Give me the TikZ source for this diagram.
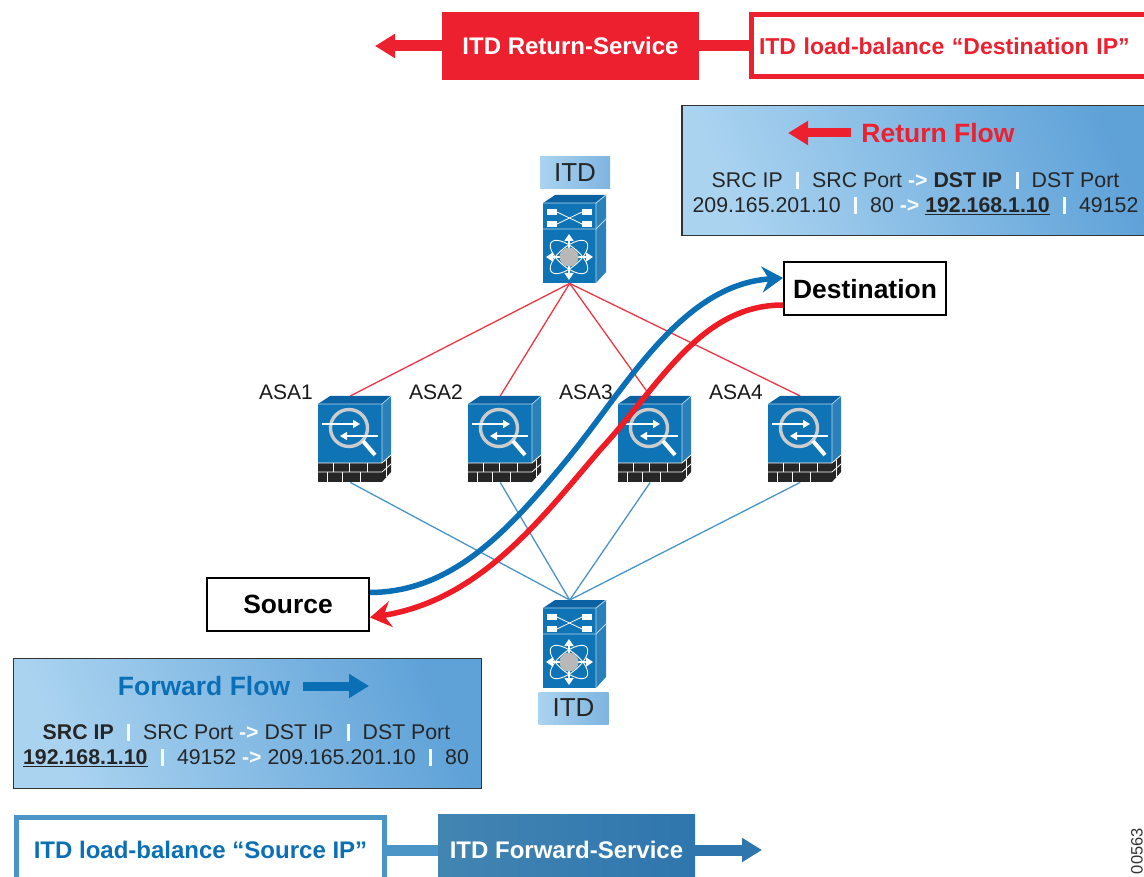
\documentclass[tikz,border=0pt]{standalone}
\usepackage{fontspec}
\setmainfont{Liberation Sans}
\usetikzlibrary{arrows.meta}

\definecolor{itdred}{HTML}{ED2030}
\definecolor{curvered}{HTML}{EE1C25}
\definecolor{itdblue}{HTML}{0A6FB5}
\definecolor{iconblue}{HTML}{0E74B6}
\definecolor{icontop}{HTML}{0B62A2}
\definecolor{iconside}{HTML}{2A80BA}
\definecolor{panellight}{HTML}{AAD3F0}
\definecolor{paneldark}{HTML}{5FA2D8}
\definecolor{fwdline}{HTML}{4A94C6}
\definecolor{fwdbar}{HTML}{2F76AE}

\newcommand{\fsize}[1]{\fontsize{#1}{#1}\selectfont}
\newcommand{\barsep}{\hspace{13.5pt}\textcolor{white!90!panellight}{\rule[-1.5pt]{3pt}{17pt}}\hspace{13pt}}
\newcommand{\flowto}{\textcolor{white!90!panellight}{\textbf{->}}}

\tikzset{
    flowpanel/.style={draw=black!80, line width=1.6pt, minimum height=130pt, shading=axis,
        left color=panellight, right color=paneldark, shading angle=112},
    flowtitle/.style={font=\fsize{26.5}\bfseries},
    flowrow/.style={font=\fsize{21.3}, inner sep=0pt, text=black!85},
    flowarrow/.style={line width=9pt, -{Triangle[length=20pt,width=23pt]}},
    lbbox/.style={draw, fill=white, line width=5pt, inner ysep=0pt, minimum height=62pt, font=\fsize{24}\bfseries},
    svcbox/.style={minimum height=68pt, minimum width=257pt, text=white, font=\fsize{24}\bfseries},
    hostbox/.style={draw=black, fill=white, line width=2pt, minimum width=162pt, minimum height=53pt, font=\fsize{26.4}\bfseries},
    itdtag/.style={minimum width=70pt, minimum height=32pt, shading=axis, left color=panellight,
        right color=paneldark!80, font=\fsize{26}, text=black!85},
    asatag/.style={font=\fsize{21}, inner sep=0pt, text=black!90},
    switchbox/.style={minimum width=53pt, minimum height=88pt, inner sep=0pt},
    asabox/.style={minimum width=64pt, minimum height=86pt, inner sep=0pt},
    toline/.style={itdred!90, line width=1.3pt},
    fromline/.style={fwdline, line width=1.3pt},
    flowcurve/.style={line width=5.5pt, -{Stealth[length=21pt,width=26pt,inset=7pt]}},
    itdswitch/.pic={
        \fill[iconblue] (0,8) rectangle (53,88);
        \fill[icontop] (0,8) -- (12,0) -- (63,0) -- (53,8) -- cycle;
        \fill[iconside] (53,8) -- (63,0) -- (63,77) -- (53,88) -- cycle;
        \draw[white!70!iconblue, line width=.8pt] (0,34) -- (53,34) -- (63,24);
        \draw[white!70!iconblue, line width=.8pt] (0,8) -- (53,8) -- (53,88) (53,8) -- (63,0);
        \fill[white] (4,14) rectangle (14,20);
        \fill[white] (39,14) rectangle (49,20);
        \fill[white] (4,26) rectangle (14,32);
        \fill[white] (39,26) rectangle (49,32);
        \draw[white, line width=.8pt] (14,17) -- (39,29);
        \draw[white, line width=.8pt] (14,29) -- (39,17);
        \draw[white, line width=.9pt, rotate around={40:(26,62)}] (26,62) ellipse [x radius=23pt, y radius=10pt];
        \draw[white, line width=.9pt, rotate around={-40:(26,62)}] (26,62) ellipse [x radius=23pt, y radius=10pt];
        \draw[white, line width=1.8pt, -{Triangle[length=7pt,width=9pt]}] (26,62) -- (26,39);
        \draw[white, line width=1.8pt, -{Triangle[length=7pt,width=9pt]}] (26,62) -- (26,85);
        \draw[white, line width=1.8pt, -{Triangle[length=7pt,width=9pt]}] (26,62) -- (3,62);
        \draw[white, line width=1.8pt, -{Triangle[length=7pt,width=9pt]}] (26,62) -- (50,62);
        \fill[black!28] (26,62) circle (9.5pt);
    },
    asafirewall/.pic={
        \fill[iconblue] (0,8) rectangle (64,67);
        \fill[icontop] (0,8) -- (12,0) -- (73,0) -- (64,8) -- cycle;
        \fill[iconside] (64,8) -- (73,0) -- (73,59) -- (64,67) -- cycle;
        \draw[white!70!iconblue, line width=.7pt] (0,8) -- (64,8) -- (73,0) (64,8) -- (64,67);
        \fill[black!85] (0,67) rectangle (64,86);
        \fill[black!85] (64,67) -- (73,59) -- (73,76) -- (64,86) -- cycle;
        \draw[white, line width=.8pt] (0,76) -- (64,76) -- (73,68);
        \draw[white, line width=.8pt] (0,67) -- (64,67) -- (73,59);
        \draw[white, line width=.8pt] (15,67) -- (15,76) (31,67) -- (31,76) (49,67) -- (49,76);
        \draw[white, line width=.8pt] (9,76) -- (9,86) (24,76) -- (24,86) (42,76) -- (42,86) (68,64) -- (68,81);
        \draw[white!80!black, line width=3.4pt] (31,32) circle (18.5pt);
        \draw[white, line width=4pt] (45,45) -- (57,59);
        \draw[white, line width=1.5pt, -{Triangle[length=7pt,width=8pt]}] (4,28) -- (42,28);
        \draw[white, line width=1.5pt, -{Triangle[length=7pt,width=8pt]}] (60,40) -- (22,40);
    },
}

\begin{document}
\begin{tikzpicture}[x=1pt, y=-1pt]
    \clip (0,0) rectangle (1144,877);
    \fill[white] (0,0) rectangle (1144,877);

    \node[svcbox, fill=itdred] (returnsvc) at (570.5,46) {ITD Return-Service};
    \node[lbbox, draw=itdred, text=itdred, text width=420pt, inner xsep=7.5pt, anchor=west, font=\fsize{23}\bfseries] (lbdst) at (749,46) {ITD load-balance “Destination IP”};
    \coordinate (returntip) at (375,46);
    \draw[itdred, line width=11pt] (lbdst.west) -- (returnsvc.east);
    \draw[itdred, flowarrow, line width=11pt] (returnsvc.west) -- (returntip);

    \node[flowpanel, minimum width=478pt] (returnpanel) at (921,170.5) {};
    \node[flowtitle, text=itdred, inner sep=0pt] (returntitle) at (938,133) {Return Flow};
    \coordinate (returnend) at (788,133);
    \draw[itdred, flowarrow] ([xshift=-10pt]returntitle.west) -- (returnend);
    \node[flowrow] (returnhead) at (915.5,180.5) {SRC IP\barsep SRC Port \flowto{} \textbf{DST IP}\barsep DST Port};
    \node[flowrow] (returnvals) at (915.5,205.5) {209.165.201.10\barsep 80 \flowto{} \textbf{\underline{192.168.1.10}}\barsep 49152};

    \node[itdtag] (tagtop) at (575,173) {ITD};
    \node[switchbox, anchor=north west] (itdtop) at (543,195) {};
    \node[switchbox, anchor=north west] (itdbot) at (543,600) {};
    \node[itdtag] (tagbot) at (573.5,708) {ITD};

    \node[asabox, anchor=north west] (asa1) at (318,396) {};
    \node[asabox, anchor=north west] (asa2) at (468,396) {};
    \node[asabox, anchor=north west] (asa3) at (618,396) {};
    \node[asabox, anchor=north west] (asa4) at (768,396) {};
    \node[asatag] (asatag1) at (286,392) {ASA1};
    \node[asatag] (asatag2) at (436,392) {ASA2};
    \node[asatag] (asatag3) at (586,392) {ASA3};
    \node[asatag] (asatag4) at (736,392) {ASA4};

    \draw[toline] (itdtop.south) -- (asa1.north);
    \draw[toline] (itdtop.south) -- (asa2.north);
    \draw[toline] (itdtop.south) -- (asa3.north);
    \draw[toline] (itdtop.south) -- (asa4.north);
    \draw[fromline] (asa1.south) -- (itdbot.north);
    \draw[fromline] (asa2.south) -- (itdbot.north);
    \draw[fromline] (asa3.south) -- (itdbot.north);
    \draw[fromline] (asa4.south) -- (itdbot.north);

    \pic at (itdtop.north west) {itdswitch};
    \pic at (itdbot.north west) {itdswitch};
    \pic at (asa1.north west) {asafirewall};
    \pic at (asa2.north west) {asafirewall};
    \pic at (asa3.north west) {asafirewall};
    \pic at (asa4.north west) {asafirewall};

    \node[hostbox] (source) at (288,604.5) {Source};
    \node[hostbox] (destination) at (865,289) {Destination};
    \draw[itdblue, flowcurve] ([yshift=12pt]source.east) .. controls (450,592) and (505,535) .. (565,462) .. controls (625,390) and (680,285) .. ([yshift=11pt]destination.west);
    \draw[curvered, flowcurve] ([yshift=-16pt]destination.west) .. controls (700,305) and (660,385) .. (600,450) .. controls (540,520) and (480,600) .. ([yshift=-13pt]source.east);

    \node[flowpanel, minimum width=468pt] (forwardpanel) at (247.5,723.5) {};
    \node[flowtitle, text=itdblue, inner sep=0pt] (forwardtitle) at (204,686) {Forward Flow};
    \coordinate (forwardend) at (369,686);
    \draw[itdblue, flowarrow] ([xshift=13pt]forwardtitle.east) -- (forwardend);
    \node[flowrow] (forwardhead) at (246.5,732.5) {\textbf{SRC IP}\barsep SRC Port \flowto{} DST IP\barsep DST Port};
    \node[flowrow] (forwardvals) at (246,757.5) {\textbf{\underline{192.168.1.10}}\barsep 49152 \flowto{} 209.165.201.10\barsep 80};

    \node[lbbox, draw=fwdline, text=itdblue, minimum width=368pt, minimum height=66pt] (lbsrc) at (200.5,850) {ITD load-balance “Source IP”};
    \node[svcbox, shading=axis, left color=fwdline!90!black, right color=fwdbar, minimum height=72pt] (forwardsvc) at (566.5,850) {ITD Forward-Service};
    \coordinate (forwardtip) at (762,850);
    \draw[fwdline, line width=11pt] (lbsrc.east) -- (forwardsvc.west);
    \draw[fwdbar, flowarrow, line width=11pt] (forwardsvc.east) -- (forwardtip);

    \node[rotate=90, anchor=east, font=\fsize{16.5}, inner sep=0pt, text=black!80] (figid) at (1137,828) {00563};
\end{tikzpicture}
\end{document}
